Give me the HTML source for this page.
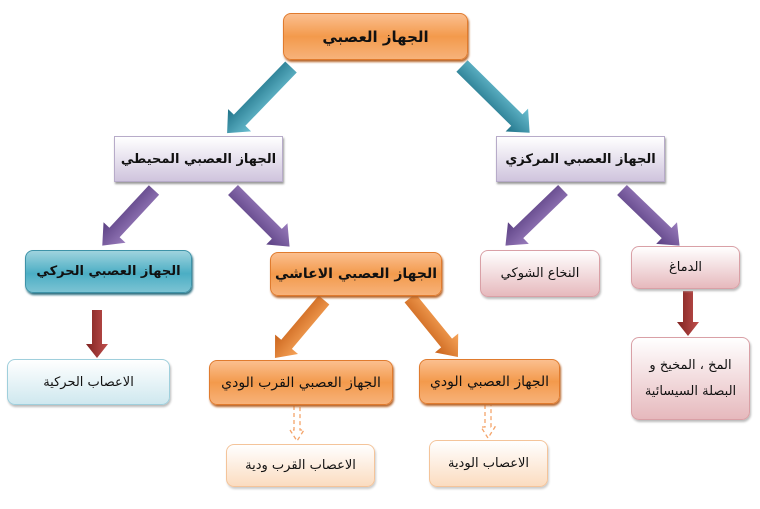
<!DOCTYPE html>
<html><head><meta charset="utf-8"><style>
body{margin:0;width:760px;height:509px;background:#fff;position:relative;overflow:hidden;font-family:"DejaVu Sans",sans-serif;}
.b{position:absolute;display:flex;align-items:center;justify-content:center;direction:rtl;font-size:14px;color:#111;box-sizing:border-box;text-align:center;white-space:nowrap;}
.or{background:linear-gradient(#fbbf8f,#f39a4c 50%,#f7b27a);border:1px solid #e07b2e;border-radius:8px;box-shadow:1px 2px 2px #b7652a;font-weight:bold;}
.lv{background:linear-gradient(#fff,#cfc4dd);border:1px solid #b7abc9;box-shadow:1px 2px 2px #999;font-weight:bold;font-size:13px;}
.tl{background:linear-gradient(#9fd3de,#4baec4 55%,#7cc3d3);border:1px solid #3e93a8;border-radius:8px;box-shadow:1px 2px 2px #2c6f80;font-weight:bold;}
.pk{background:linear-gradient(#fff,#e6b9bd);border:1px solid #d9a0a6;border-radius:8px;box-shadow:1px 2px 2px #bbb;}
.lb{background:linear-gradient(#fff,#cfe8ef);border:1px solid #9fcfdc;border-radius:8px;box-shadow:1px 2px 2px #bbb;}
.pc{background:linear-gradient(#fff,#fbdcc0);border:1px solid #f4c49a;border-radius:8px;box-shadow:1px 2px 2px #ccc;}
svg{position:absolute;left:0;top:0;}
</style></head><body>
<svg width="760" height="509">
<defs>
<linearGradient id="gt" x1="0" y1="0" x2="0" y2="1"><stop offset="0" stop-color="#6cc0d2"/><stop offset="1" stop-color="#1f7288"/></linearGradient>
<linearGradient id="gp" x1="0" y1="0" x2="0" y2="1"><stop offset="0" stop-color="#9a7dbd"/><stop offset="1" stop-color="#5a3f82"/></linearGradient>
<linearGradient id="go" x1="0" y1="0" x2="0" y2="1"><stop offset="0" stop-color="#f7a55a"/><stop offset="1" stop-color="#c9621a"/></linearGradient>
<linearGradient id="gr" x1="0" y1="0" x2="0" y2="1"><stop offset="0" stop-color="#c0504d"/><stop offset="1" stop-color="#7f2220"/></linearGradient>
</defs>
<g fill="url(#gt)">
<g transform="translate(291,67) rotate(134)"><polygon points="0,-8 74,-8 74,-16 92,0 74,16 74,8 0,8"/></g>
<g transform="translate(462,66) rotate(44.6)"><polygon points="0,-8 77,-8 77,-16 95,0 77,16 77,8 0,8"/></g>
</g>
<g fill="url(#gp)">
<g transform="translate(154,190) rotate(132.9)"><polygon points="0,-7 58,-7 58,-15 76,0 58,15 58,7 0,7"/></g>
<g transform="translate(233,190) rotate(45)"><polygon points="0,-7 62,-7 62,-15 80,0 62,15 62,7 0,7"/></g>
<g transform="translate(563,190) rotate(136)"><polygon points="0,-7 62,-7 62,-15 80,0 62,15 62,7 0,7"/></g>
<g transform="translate(622,190) rotate(44)"><polygon points="0,-7 62,-7 62,-15 80,0 62,15 62,7 0,7"/></g>
</g>
<g fill="url(#go)">
<g transform="translate(324,300) rotate(130.2)"><polygon points="0,-7 58,-7 58,-15 76,0 58,15 58,7 0,7"/></g>
<g transform="translate(410,298) rotate(50.9)"><polygon points="0,-7 58,-7 58,-15 76,0 58,15 58,7 0,7"/></g>
</g>
<g fill="url(#gr)">
<g transform="translate(97,310) rotate(90)"><polygon points="0,-5 34,-5 34,-11 48,0 34,11 34,5 0,5"/></g>
<g transform="translate(688,291) rotate(90)"><polygon points="0,-5 31,-5 31,-11 45,0 31,11 31,5 0,5"/></g>
</g>
<g fill="none" stroke="#f4a46a" stroke-width="1.3" stroke-dasharray="4,3">
<path d="M294,406 V430 H290 L297,441 L304,430 H300 V406"/>
<path d="M485,405 V427 H481 L488,438 L495,427 H491 V405"/>
</g>
</svg>
<div class="b or" style="left:283px;top:13px;width:185px;height:47px;font-size:15px">الجهاز العصبي</div>
<div class="b lv" style="left:114px;top:136px;width:169px;height:46px">الجهاز العصبي المحيطي</div>
<div class="b lv" style="left:496px;top:136px;width:169px;height:46px">الجهاز العصبي المركزي</div>
<div class="b tl" style="left:25px;top:250px;width:167px;height:43px;font-size:13px">الجهاز العصبي الحركي</div>
<div class="b or" style="left:270px;top:252px;width:172px;height:44px">الجهاز العصبي الاعاشي</div>
<div class="b pk" style="left:480px;top:250px;width:120px;height:47px;font-size:13px">النخاع الشوكي</div>
<div class="b pk" style="left:631px;top:246px;width:109px;height:43px;font-size:13px">الدماغ</div>
<div class="b lb" style="left:7px;top:359px;width:163px;height:46px;font-size:13px">الاعصاب الحركية</div>
<div class="b or" style="left:209px;top:360px;width:184px;height:45px;font-weight:normal">الجهاز العصبي القرب الودي</div>
<div class="b or" style="left:419px;top:359px;width:141px;height:45px;font-weight:normal">الجهاز العصبي الودي</div>
<div class="b pc" style="left:226px;top:444px;width:149px;height:43px;font-size:13px">الاعصاب القرب ودية</div>
<div class="b pc" style="left:429px;top:440px;width:119px;height:47px;font-size:13px">الاعصاب الودية</div>
<div class="b pk" style="left:631px;top:337px;width:119px;height:83px;font-size:13px;line-height:26px">المخ ، المخيخ و<br>البصلة السيسائية</div>
</body></html>
